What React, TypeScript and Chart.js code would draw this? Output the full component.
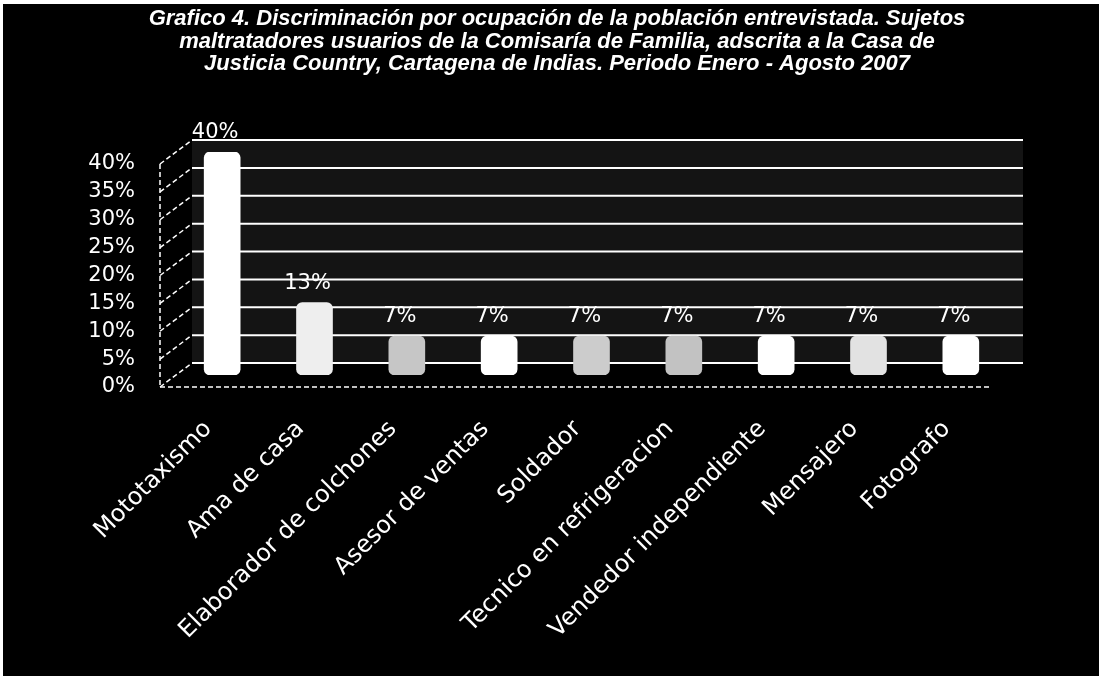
import React, { useEffect, useRef } from 'react';
import { Chart, registerables } from 'chart.js';

Chart.register(...registerables);

const categories = [
  'Mototaxismo',
  'Ama de casa',
  'Elaborador de colchones',
  'Asesor de ventas',
  'Soldador',
  'Tecnico en refrigeracion',
  'Vendedor independiente',
  'Mensajero',
  'Fotografo',
];
const values = [40, 13, 7, 7, 7, 7, 7, 7, 7];
const barColors = ['#ffffff', '#eeeeee', '#c6c6c6', '#ffffff', '#cccccc', '#c2c2c2', '#ffffff', '#e2e2e2', '#ffffff'];
const yMin = 0;
const yMax = 40;
const yStep = 5;
const titleLines = [
  'Grafico 4. Discriminación por ocupación de la población entrevistada. Sujetos',
  'maltratadores usuarios de la Comisaría de Familia, adscrita a la Casa de',
  'Justicia Country, Cartagena de Indias. Periodo Enero - Agosto 2007',
];

const DX = 16;
const DY = 12;
const FONT = '"DejaVu Sans", Verdana, sans-serif';

const titlePlugin = {
  id: 'titleText',
  afterDraw(chart: any) {
    const { ctx } = chart;
    ctx.save();
    ctx.fillStyle = '#ffffff';
    ctx.font = 'italic bold 22px "Liberation Sans", Arial, sans-serif';
    ctx.textAlign = 'center';
    ctx.textBaseline = 'middle';
    titleLines.forEach((t, i) => {
      ctx.fillText(t, 554, 15 + i * 22.6);
    });
    ctx.restore();
  },
};

const wallPlugin = {
  id: 'wall3d',
  beforeDatasetsDraw(chart: any) {
    const { ctx, chartArea, scales } = chart;
    const { left, right } = chartArea;
    const y = scales.y;
    const y0 = y.getPixelForValue(yMin);
    const yTop = y.getPixelForValue(yMax);
    const tickVals: number[] = y.ticks.map((t: any) => t.value);
    const line = (x1: number, y1: number, x2: number, y2: number) => {
      ctx.beginPath();
      ctx.moveTo(x1, y1);
      ctx.lineTo(x2, y2);
      ctx.stroke();
    };
    ctx.save();
    ctx.fillStyle = '#141414';
    ctx.fillRect(left + DX, yTop - DY, right - left, y0 - yTop);
    ctx.strokeStyle = '#ffffff';
    ctx.lineWidth = 2;
    tickVals.forEach((v) => {
      const py = y.getPixelForValue(v) - DY;
      line(left + DX, py, right + DX, py);
    });
    ctx.setLineDash([5, 3]);
    ctx.lineWidth = 1.5;
    tickVals.forEach((v) => {
      const py = y.getPixelForValue(v);
      line(left - DX, py + DY, left + DX, py - DY);
    });
    line(left - DX, yTop + DY, left - DX, y0 + DY);
    line(left - DX, y0 + DY, right - DX, y0 + DY);
    ctx.restore();
  },
};

const labelPlugin = {
  id: 'barLabels',
  afterDatasetsDraw(chart: any) {
    const { ctx } = chart;
    const meta = chart.getDatasetMeta(0);
    ctx.save();
    ctx.fillStyle = '#ffffff';
    ctx.font = `21px ${FONT}`;
    ctx.textAlign = 'center';
    ctx.textBaseline = 'middle';
    meta.data.forEach((bar: any, i: number) => {
      ctx.fillText(`${values[i]}%`, bar.x - 7, bar.y - 19);
    });
    ctx.restore();
  },
};

export default function App() {
  const ref = useRef<HTMLCanvasElement | null>(null);
  useEffect(() => {
    if (!ref.current) return;
    const chart = new Chart(ref.current, {
      type: 'bar',
      data: {
        labels: categories,
        datasets: [
          {
            data: values,
            backgroundColor: barColors,
            borderWidth: 0,
            borderRadius: 6,
            borderSkipped: false,
            barThickness: 36,
          },
        ],
      },
      options: {
        responsive: false,
        animation: false,
        layout: { padding: { left: 0, right: 92, top: 148, bottom: 0 } },
        plugins: {
          legend: { display: false },
          tooltip: { enabled: false },
          title: { display: false },
        },
        scales: {
          x: {
            grid: { display: false, drawTicks: false },
            border: { display: false },
            ticks: {
              color: '#ffffff',
              font: { family: FONT, size: 24 },
              minRotation: 45,
              maxRotation: 45,
              autoSkip: false,
              padding: 40,
              labelOffset: -14,
            },
            afterFit: (s: any) => {
              s.height = 301;
            },
          },
          y: {
            min: yMin,
            max: yMax,
            grid: { display: false, drawTicks: false },
            border: { display: false },
            ticks: {
              stepSize: yStep,
              autoSkip: false,
              color: '#ffffff',
              font: { family: FONT, size: 21 },
              padding: 41,
              labelOffset: 12,
              callback: (v: any) => `${v}%`,
            },
            afterFit: (s: any) => {
              s.width = 173;
            },
          },
        },
      },
      plugins: [wallPlugin, labelPlugin, titlePlugin],
    });
    return () => chart.destroy();
  }, []);
  return (
    <div style={{ position: 'fixed', left: 0, top: 0, width: 1099, height: 680, background: '#ffffff' }}>
      <div style={{ position: 'absolute', left: 3, top: 4, width: 1096, height: 672, background: '#000000' }}>
        <canvas ref={ref} width={1096} height={672} style={{ display: 'block' }} />
      </div>
    </div>
  );
}
